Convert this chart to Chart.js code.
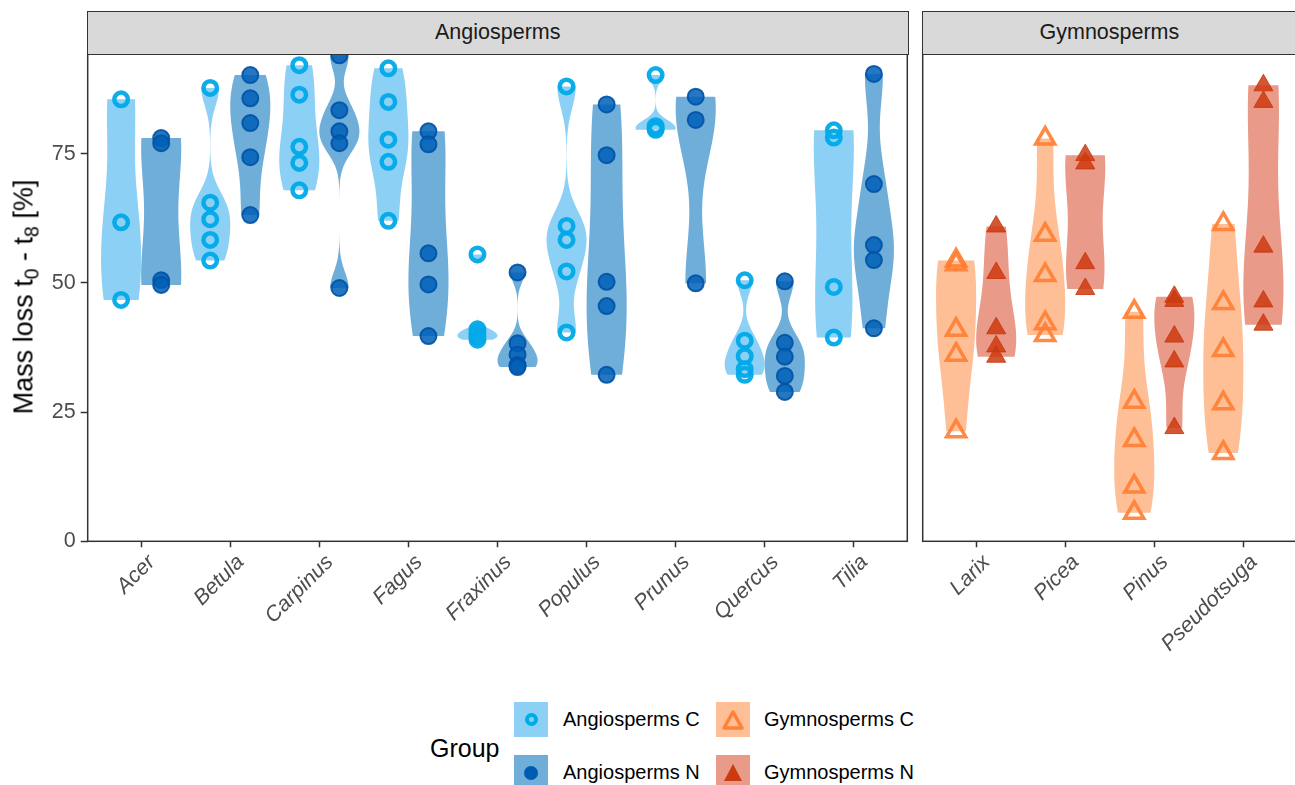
<!DOCTYPE html>
<html>
<head>
<meta charset="utf-8">
<script src="https://cdn.jsdelivr.net/npm/chart.js@4.4.1/dist/chart.umd.min.js"></script>
<style>
  html, body { margin: 0; padding: 0; background: #fff; }
  body { width: 1295px; height: 785px; position: relative; overflow: hidden; font-family: "Liberation Sans", Arial, sans-serif; }
  canvas { position: absolute; top: 0; }
  .strip { position: absolute; top: 11px; height: 43.5px; background: #D9D9D9; border: 1.5px solid #333; box-sizing: border-box;
           color: #1A1A1A; font-size: 21.5px; display: flex; align-items: center; justify-content: center; }
  .ytitle { position: absolute; left: 24px; top: 297px; transform: translate(-50%, -50%) rotate(-90deg); white-space: nowrap;
            font-size: 27px; color: #000; }
  .ytitle sub { font-size: 0.72em; vertical-align: -0.3em; line-height: 0; }
  .key { position: absolute; width: 34px; height: 35px; display: flex; align-items: center; justify-content: center; }
  .lab { position: absolute; font-size: 20px; color: #000; transform: translateY(-50%); white-space: nowrap; }
  .ltitle { position: absolute; font-size: 25px; color: #000; transform: translateY(-50%); }
</style>
</head>
<body>
<canvas id="left" width="910" height="700" style="left:0"></canvas>
<canvas id="right" width="385" height="700" style="left:915px"></canvas>
<div class="strip" style="left:87px; width:821.5px">Angiosperms</div>
<div class="strip" style="left:922px; width:374.8px">Gymnosperms</div>
<div class="ytitle">Mass loss t<sub>0</sub> - t<sub>8</sub> [%]</div>

<div class="ltitle" style="left:430px; top:748px">Group</div>
<div class="key" style="left:514px; top:702px; background:#8DD0F5">
  <div style="width:13px; height:13px; border-radius:50%; border:4px solid #00A9E8; box-sizing:border-box"></div>
</div>
<div class="key" style="left:514px; top:755px; background:#6FAED9">
  <div style="width:14px; height:14px; border-radius:50%; background:#005CB2"></div>
</div>
<div class="key" style="left:716px; top:702px; background:#FEBE96">
  <svg width="24" height="22" viewBox="0 0 24 22"><polygon points="12,3 21,19 3,19" fill="none" stroke="#FF8037" stroke-width="3.5" stroke-linejoin="round"/></svg>
</div>
<div class="key" style="left:716px; top:755px; background:#E99A88">
  <svg width="24" height="22" viewBox="0 0 24 22"><polygon points="12,2 21,19 3,19" fill="#CC3A10"/></svg>
</div>
<div class="lab" style="left:563px; top:719px">Angiosperms C</div>
<div class="lab" style="left:563px; top:772px">Angiosperms N</div>
<div class="lab" style="left:764px; top:719px">Gymnosperms C</div>
<div class="lab" style="left:764px; top:772px">Gymnosperms N</div>

<script>
// Categories per facet
const angioCats = ['Acer', 'Betula', 'Carpinus', 'Fagus', 'Fraxinus', 'Populus', 'Prunus', 'Quercus', 'Tilia'];
const gymnoCats = ['Larix', 'Picea', 'Pinus', 'Pseudotsuga'];
const yTicks = [0, 25, 50, 75];

// Mass loss values (%), one list per genus
const angioC = [
  [85.5, 61.7, 46.7],
  [87.7, 65.5, 62.3, 58.3, 54.3],
  [92.1, 86.4, 76.3, 73.2, 67.9],
  [91.5, 85.0, 77.7, 73.4, 62.0],
  [55.5, 41.0, 40.2, 39.6, 39.0],
  [88.0, 61.0, 58.3, 52.2, 40.4],
  [90.2, 80.3, 79.9, 79.6],
  [50.5, 38.8, 35.8, 33.3, 32.2],
  [79.5, 78.1, 49.2, 39.4]
];
const angioN = [
  [78.0, 77.0, 50.5, 49.6],
  [90.2, 85.7, 80.9, 74.3, 63.1],
  [94.0, 83.4, 79.3, 77.0, 49.0],
  [79.3, 76.8, 55.7, 49.7, 39.7],
  [52.0, 38.3, 36.1, 34.1, 33.7],
  [84.5, 74.7, 50.2, 45.5, 32.2],
  [86.0, 81.5, 49.9],
  [50.3, 38.4, 35.7, 32.0, 28.9],
  [90.4, 69.1, 57.3, 54.4, 41.2]
];
const gymnoC = [
  [54.3, 53.6, 40.9, 36.1, 21.3],
  [77.9, 59.3, 51.5, 42.2, 39.9],
  [44.4, 27.0, 19.6, 10.6, 5.5],
  [61.4, 46.1, 37.0, 26.7, 17.1]
];
const gymnoN = [
  [60.9, 51.9, 41.2, 37.7, 35.7],
  [74.7, 73.1, 53.8, 48.8],
  [47.3, 46.5, 39.6, 34.8, 21.9],
  [88.2, 85.0, 57.0, 46.4, 41.9]
];

const DODGE = 0.225;
const FONT = 'Liberation Sans, Arial, sans-serif';

// gaussian kernel density, bandwidth like R's nrd0
function quantile(s, p) {
  const h = (s.length - 1) * p, lo = Math.floor(h);
  const hi = Math.min(lo + 1, s.length - 1);
  return s[lo] + (h - lo) * (s[hi] - s[lo]);
}
function bwNrd0(vals) {
  const n = vals.length;
  const s = vals.slice().sort((a, b) => a - b);
  const mean = vals.reduce((a, b) => a + b, 0) / n;
  const sd = Math.sqrt(vals.reduce((a, b) => a + (b - mean) ** 2, 0) / (n - 1));
  let lo = Math.min(sd, (quantile(s, 0.75) - quantile(s, 0.25)) / 1.34);
  if (!(lo > 0)) lo = sd || 1;
  return 0.9 * lo * Math.pow(n, -0.2);
}
function density(vals) {
  const bw = bwNrd0(vals);
  const min = Math.min(...vals), max = Math.max(...vals);
  const out = [];
  for (let i = 0; i <= 200; i++) {
    const y = min + (max - min) * i / 200;
    let d = 0;
    vals.forEach(v => { d += Math.exp(-0.5 * ((y - v) / bw) ** 2); });
    out.push([y, d]);
  }
  const m = Math.max(...out.map(p => p[1]));
  return out.map(p => [p[0], p[1] / m]);
}

const violinPlugin = {
  id: 'violins',
  beforeDatasetsDraw(chart, args, opts) {
    const { ctx, chartArea, scales: { x, y } } = chart;
    ctx.save();
    ctx.beginPath();
    ctx.rect(chartArea.left, chartArea.top, chartArea.right - chartArea.left, chartArea.bottom - chartArea.top);
    ctx.clip();
    opts.groups.forEach(g => {
      g.values.forEach((vals, i) => {
        const c = i + 1 + g.offset;
        const d = density(vals);
        ctx.beginPath();
        d.forEach((p, k) => {
          const px = x.getPixelForValue(c - DODGE * p[1]), py = y.getPixelForValue(p[0]);
          k ? ctx.lineTo(px, py) : ctx.moveTo(px, py);
        });
        for (let k = d.length - 1; k >= 0; k--) {
          ctx.lineTo(x.getPixelForValue(c + DODGE * d[k][1]), y.getPixelForValue(d[k][0]));
        }
        ctx.closePath();
        ctx.fillStyle = g.color;
        ctx.fill();
      });
    });
    ctx.restore();
  },
  afterDraw(chart, args, opts) {
    const { ctx, chartArea, scales: { x } } = chart;
    ctx.save();
    // rotated category labels (angle 45, right/top anchored)
    ctx.fillStyle = '#4D4D4D';
    ctx.font = 'italic 21.5px ' + FONT;
    ctx.textAlign = 'right';
    ctx.textBaseline = 'top';
    opts.cats.forEach((c, i) => {
      ctx.save();
      ctx.translate(x.getPixelForValue(i + 1) + 3, chartArea.bottom + 10);
      ctx.rotate(-Math.PI / 4);
      ctx.fillText(c, 0, 0);
      ctx.restore();
    });
    ctx.strokeStyle = '#333';
    ctx.lineWidth = 1.5;
    ctx.strokeRect(chartArea.left, chartArea.top, chartArea.right - chartArea.left, chartArea.bottom - chartArea.top);
    ctx.restore();
  }
};

function toPoints(groups, offset) {
  const pts = [];
  groups.forEach((vals, i) => vals.forEach(v => pts.push({ x: i + 1 + offset, y: v })));
  return pts;
}

function makeChart(id, cats, cVals, nVals, style) {
  const left = id === 'left';
  const canvasW = left ? 910 : 385;
  return new Chart(document.getElementById(id), {
    type: 'scatter',
    data: {
      datasets: [
        Object.assign({ data: toPoints(cVals, -DODGE), clip: 0 }, style.cPoint),
        Object.assign({ data: toPoints(nVals, DODGE), clip: 0 }, style.nPoint)
      ]
    },
    options: {
      responsive: false,
      animation: false,
      events: [],
      layout: {
        autoPadding: false,
        padding: left ? { top: 53.3, right: 2.7, left: 0, bottom: 0 } : { top: 53.3, left: 7.7, right: canvasW - (1296.8 - 915), bottom: 0 }
      },
      plugins: {
        legend: { display: false },
        tooltip: { enabled: false },
        violins: {
          cats: cats,
          groups: [
            { values: cVals, offset: -DODGE, color: style.cFill },
            { values: nVals, offset: DODGE, color: style.nFill }
          ]
        }
      },
      scales: {
        x: {
          type: 'linear',
          min: 0.4,
          max: cats.length + 0.6,
          afterBuildTicks: axis => { axis.ticks = cats.map((c, i) => ({ value: i + 1 })); },
          afterFit: axis => { axis.height = 700 - 541.3; },
          border: { display: false },
          grid: { drawOnChartArea: false, drawTicks: true, tickLength: 6, tickColor: '#333', tickWidth: 1.5 },
          ticks: { display: false }
        },
        y: {
          display: left,
          min: 0,
          max: 94.4,
          afterBuildTicks: axis => { axis.ticks = yTicks.map(v => ({ value: v })); },
          afterFit: axis => { axis.width = left ? 87.7 : 0; },
          border: { display: false },
          grid: { drawOnChartArea: false, drawTicks: true, tickLength: 7, tickColor: '#333', tickWidth: 1.5 },
          ticks: { padding: 5, color: '#4D4D4D', font: { family: FONT, size: 21.5 } }
        }
      }
    },
    plugins: [violinPlugin]
  });
}

makeChart('left', angioCats, angioC, angioN, {
  cFill: '#8DD0F5',
  nFill: '#6FAED9',
  cPoint: { pointStyle: 'circle', pointRadius: 6.75, pointBorderWidth: 4.5, borderColor: 'rgba(0,169,232,0.95)', backgroundColor: 'rgba(0,0,0,0)' },
  nPoint: { pointStyle: 'circle', pointRadius: 8, pointBorderWidth: 2, borderColor: 'rgba(0,82,165,0.9)', backgroundColor: 'rgba(0,95,182,0.85)' }
});
makeChart('right', gymnoCats, gymnoC, gymnoN, {
  cFill: '#FEBE96',
  nFill: '#E99A88',
  cPoint: { pointStyle: 'triangle', pointRadius: 11, pointBorderWidth: 3.5, borderColor: 'rgba(255,125,50,0.9)', backgroundColor: 'rgba(0,0,0,0)' },
  nPoint: { pointStyle: 'triangle', pointRadius: 11, pointBorderWidth: 1, borderColor: 'rgba(200,55,10,0.85)', backgroundColor: 'rgba(204,58,16,0.85)' }
});
</script>
</body>
</html>
